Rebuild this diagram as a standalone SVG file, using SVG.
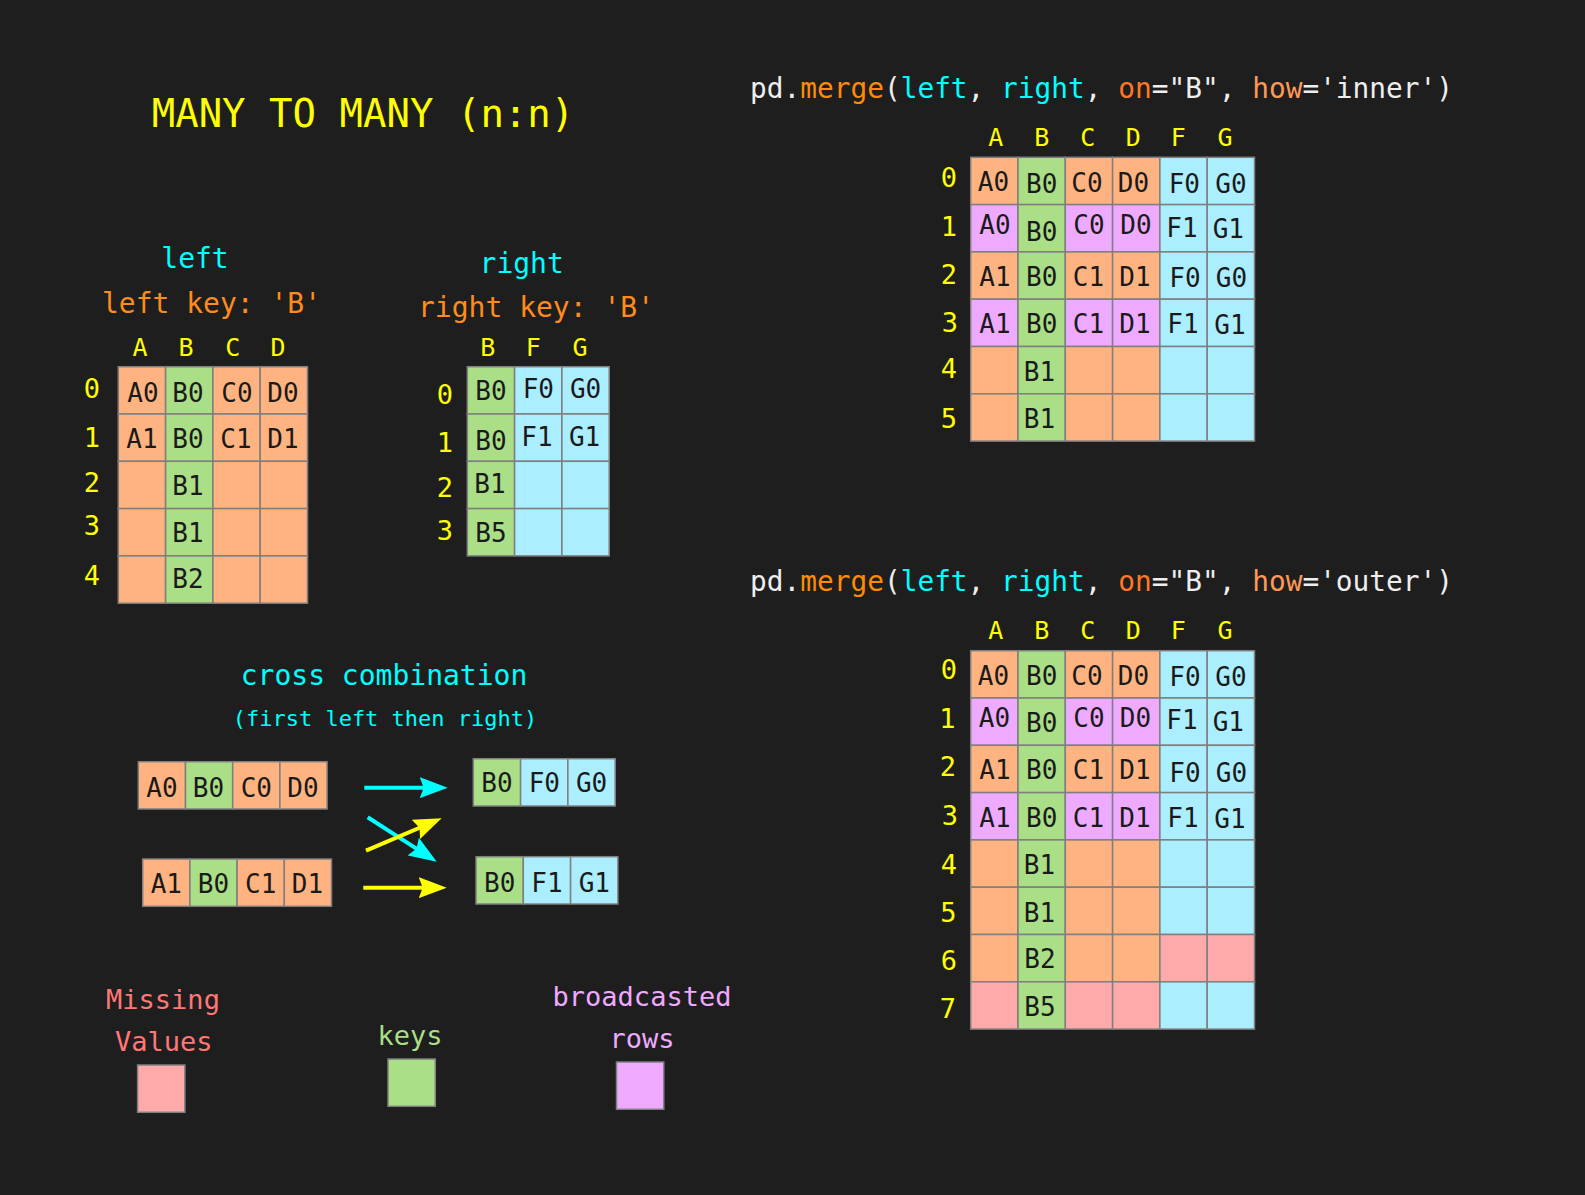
<svg xmlns="http://www.w3.org/2000/svg" width="1585" height="1195" viewBox="0 0 1585 1195">
<style>
text{font-family:"DejaVu Sans Mono","Liberation Mono",monospace}
.c{stroke:#7f7f7f;stroke-width:1.5}
.o{fill:#ffb380}.g{fill:#aade87}.b{fill:#aaeeff}.p{fill:#ffaaaa}.v{fill:#eeaaff}
.t{font-size:26px;fill:#1a1a1a;text-anchor:middle}
.h{font-size:25px;fill:#ffff00;text-anchor:middle}
.i{font-size:27px;fill:#ffff00;text-anchor:middle}
.cy{fill:#00ffff}.or{fill:#ff8c1a}.w{fill:#eeeeee}
.ttl{font-size:28px;text-anchor:middle}
.code{font-size:27.8px;fill:#eeeeee}
.leg{font-size:27px;text-anchor:middle}
</style>
<defs>
<marker id="ahC" viewBox="0 0 28 21" refX="20" refY="10.5" markerWidth="28" markerHeight="21" markerUnits="userSpaceOnUse" orient="auto"><path d="M0,0 L28,10.5 L0,21 L4,10.5 Z" fill="#00ffff"/></marker>
<marker id="ahY" viewBox="0 0 28 21" refX="20" refY="10.5" markerWidth="28" markerHeight="21" markerUnits="userSpaceOnUse" orient="auto"><path d="M0,0 L28,10.5 L0,21 L4,10.5 Z" fill="#ffff00"/></marker>
</defs>
<rect x="0" y="0" width="1585" height="1195" fill="#1e1e1e"/>

<g id="title"><text x="363" y="127" font-size="39" fill="#ffff00" text-anchor="middle">MANY TO MANY (n:n)</text></g>

<g id="left-table">
<text class="ttl cy" x="195" y="268">left</text>
<text class="ttl or" x="211.5" y="313" font-size="27">left key: 'B'</text>
<text class="h" x="140" y="356">A</text><text class="h" x="186" y="356">B</text><text class="h" x="232.7" y="356">C</text><text class="h" x="278" y="356">D</text>
<text class="i" x="92" y="398">0</text><text class="i" x="92" y="446.7">1</text><text class="i" x="92" y="491.7">2</text><text class="i" x="92" y="535">3</text><text class="i" x="92" y="585">4</text>
<rect class="c o" x="118.3" y="366.7" width="47.3" height="47.3"/><rect class="c g" x="165.6" y="366.7" width="47.3" height="47.3"/><rect class="c o" x="212.9" y="366.7" width="47.3" height="47.3"/><rect class="c o" x="260.2" y="366.7" width="47.3" height="47.3"/>
<rect class="c o" x="118.3" y="414" width="47.3" height="47.3"/><rect class="c g" x="165.6" y="414" width="47.3" height="47.3"/><rect class="c o" x="212.9" y="414" width="47.3" height="47.3"/><rect class="c o" x="260.2" y="414" width="47.3" height="47.3"/>
<rect class="c o" x="118.3" y="461.3" width="47.3" height="47.3"/><rect class="c g" x="165.6" y="461.3" width="47.3" height="47.3"/><rect class="c o" x="212.9" y="461.3" width="47.3" height="47.3"/><rect class="c o" x="260.2" y="461.3" width="47.3" height="47.3"/>
<rect class="c o" x="118.3" y="508.6" width="47.3" height="47.3"/><rect class="c g" x="165.6" y="508.6" width="47.3" height="47.3"/><rect class="c o" x="212.9" y="508.6" width="47.3" height="47.3"/><rect class="c o" x="260.2" y="508.6" width="47.3" height="47.3"/>
<rect class="c o" x="118.3" y="555.9" width="47.3" height="47.3"/><rect class="c g" x="165.6" y="555.9" width="47.3" height="47.3"/><rect class="c o" x="212.9" y="555.9" width="47.3" height="47.3"/><rect class="c o" x="260.2" y="555.9" width="47.3" height="47.3"/>
<text class="t" x="143" y="401.7">A0</text><text class="t" x="188" y="401.7">B0</text><text class="t" x="237" y="401.7">C0</text><text class="t" x="283" y="401.7">D0</text>
<text class="t" x="142" y="448.3">A1</text><text class="t" x="188" y="448.3">B0</text><text class="t" x="236" y="448.3">C1</text><text class="t" x="283" y="448.3">D1</text>
<text class="t" x="188" y="495">B1</text>
<text class="t" x="188" y="541.7">B1</text>
<text class="t" x="188" y="588.3">B2</text>
</g>

<g id="right-table">
<text class="ttl cy" x="521.7" y="273">right</text>
<text class="ttl or" x="536" y="317" font-size="27">right key: 'B'</text>
<text class="h" x="487.7" y="356">B</text><text class="h" x="533.3" y="356">F</text><text class="h" x="580" y="356">G</text>
<text class="i" x="445" y="404">0</text><text class="i" x="445" y="452.3">1</text><text class="i" x="445" y="497.3">2</text><text class="i" x="445" y="540">3</text>
<rect class="c g" x="467.3" y="366.7" width="47.3" height="47.3"/><rect class="c b" x="514.6" y="366.7" width="47.3" height="47.3"/><rect class="c b" x="561.9" y="366.7" width="47.3" height="47.3"/>
<rect class="c g" x="467.3" y="414" width="47.3" height="47.3"/><rect class="c b" x="514.6" y="414" width="47.3" height="47.3"/><rect class="c b" x="561.9" y="414" width="47.3" height="47.3"/>
<rect class="c g" x="467.3" y="461.3" width="47.3" height="47.3"/><rect class="c b" x="514.6" y="461.3" width="47.3" height="47.3"/><rect class="c b" x="561.9" y="461.3" width="47.3" height="47.3"/>
<rect class="c g" x="467.3" y="508.6" width="47.3" height="47.3"/><rect class="c b" x="514.6" y="508.6" width="47.3" height="47.3"/><rect class="c b" x="561.9" y="508.6" width="47.3" height="47.3"/>
<text class="t" x="491" y="400">B0</text><text class="t" x="538.3" y="398.3">F0</text><text class="t" x="585.6" y="398.3">G0</text>
<text class="t" x="491" y="450">B0</text><text class="t" x="537" y="446">F1</text><text class="t" x="584.6" y="446">G1</text>
<text class="t" x="490" y="493.3">B1</text>
<text class="t" x="491" y="541.7">B5</text>
</g>

<g id="inner-merge">
<text class="code" x="750" y="98">pd.<tspan fill="#ff8c00">merge</tspan>(<tspan fill="#00ffff">left</tspan>, <tspan fill="#00ffff">right</tspan>, <tspan fill="#ff7722">on</tspan>="B", <tspan fill="#ff9955">how</tspan>='inner')</text>
<text class="h" x="995.7" y="146">A</text><text class="h" x="1041.7" y="146">B</text><text class="h" x="1087.7" y="146">C</text><text class="h" x="1133.3" y="146">D</text><text class="h" x="1178.3" y="146">F</text><text class="h" x="1225" y="146">G</text>
<text class="i" x="949" y="187.3">0</text><text class="i" x="949" y="236">1</text><text class="i" x="949" y="284">2</text><text class="i" x="950" y="331.7">3</text><text class="i" x="949" y="378.3">4</text><text class="i" x="949" y="428.3">5</text>
<rect class="c o" x="970.7" y="157.3" width="47.3" height="47.3"/><rect class="c g" x="1018" y="157.3" width="47.3" height="47.3"/><rect class="c o" x="1065.3" y="157.3" width="47.3" height="47.3"/><rect class="c o" x="1112.6" y="157.3" width="47.3" height="47.3"/><rect class="c b" x="1159.9" y="157.3" width="47.3" height="47.3"/><rect class="c b" x="1207.2" y="157.3" width="47.3" height="47.3"/>
<rect class="c v" x="970.7" y="204.6" width="47.3" height="47.3"/><rect class="c g" x="1018" y="204.6" width="47.3" height="47.3"/><rect class="c v" x="1065.3" y="204.6" width="47.3" height="47.3"/><rect class="c v" x="1112.6" y="204.6" width="47.3" height="47.3"/><rect class="c b" x="1159.9" y="204.6" width="47.3" height="47.3"/><rect class="c b" x="1207.2" y="204.6" width="47.3" height="47.3"/>
<rect class="c o" x="970.7" y="251.9" width="47.3" height="47.3"/><rect class="c g" x="1018" y="251.9" width="47.3" height="47.3"/><rect class="c o" x="1065.3" y="251.9" width="47.3" height="47.3"/><rect class="c o" x="1112.6" y="251.9" width="47.3" height="47.3"/><rect class="c b" x="1159.9" y="251.9" width="47.3" height="47.3"/><rect class="c b" x="1207.2" y="251.9" width="47.3" height="47.3"/>
<rect class="c v" x="970.7" y="299.2" width="47.3" height="47.3"/><rect class="c g" x="1018" y="299.2" width="47.3" height="47.3"/><rect class="c v" x="1065.3" y="299.2" width="47.3" height="47.3"/><rect class="c v" x="1112.6" y="299.2" width="47.3" height="47.3"/><rect class="c b" x="1159.9" y="299.2" width="47.3" height="47.3"/><rect class="c b" x="1207.2" y="299.2" width="47.3" height="47.3"/>
<rect class="c o" x="970.7" y="346.5" width="47.3" height="47.3"/><rect class="c g" x="1018" y="346.5" width="47.3" height="47.3"/><rect class="c o" x="1065.3" y="346.5" width="47.3" height="47.3"/><rect class="c o" x="1112.6" y="346.5" width="47.3" height="47.3"/><rect class="c b" x="1159.9" y="346.5" width="47.3" height="47.3"/><rect class="c b" x="1207.2" y="346.5" width="47.3" height="47.3"/>
<rect class="c o" x="970.7" y="393.8" width="47.3" height="47.3"/><rect class="c g" x="1018" y="393.8" width="47.3" height="47.3"/><rect class="c o" x="1065.3" y="393.8" width="47.3" height="47.3"/><rect class="c o" x="1112.6" y="393.8" width="47.3" height="47.3"/><rect class="c b" x="1159.9" y="393.8" width="47.3" height="47.3"/><rect class="c b" x="1207.2" y="393.8" width="47.3" height="47.3"/>
<text class="t" x="993.5" y="191">A0</text><text class="t" x="1041.7" y="192.7">B0</text><text class="t" x="1087" y="191.7">C0</text><text class="t" x="1133.5" y="191.7">D0</text><text class="t" x="1184.3" y="193.3">F0</text><text class="t" x="1230.9" y="193">G0</text>
<text class="t" x="995" y="234">A0</text><text class="t" x="1041.7" y="240.7">B0</text><text class="t" x="1089" y="234">C0</text><text class="t" x="1136" y="234">D0</text><text class="t" x="1182" y="237.3">F1</text><text class="t" x="1228.3" y="238.3">G1</text>
<text class="t" x="995" y="286">A1</text><text class="t" x="1041.7" y="286">B0</text><text class="t" x="1088.5" y="286">C1</text><text class="t" x="1135" y="286">D1</text><text class="t" x="1185" y="287.3">F0</text><text class="t" x="1231.5" y="287.3">G0</text>
<text class="t" x="995" y="332.7">A1</text><text class="t" x="1041.7" y="332.7">B0</text><text class="t" x="1088.5" y="332.7">C1</text><text class="t" x="1135" y="332.7">D1</text><text class="t" x="1183" y="332.7">F1</text><text class="t" x="1230" y="334">G1</text>
<text class="t" x="1039.5" y="381">B1</text>
<text class="t" x="1039.5" y="427.7">B1</text>
</g>

<g id="outer-merge">
<text class="code" x="750" y="591">pd.<tspan fill="#ff8c00">merge</tspan>(<tspan fill="#00ffff">left</tspan>, <tspan fill="#00ffff">right</tspan>, <tspan fill="#ff7722">on</tspan>="B", <tspan fill="#ff9955">how</tspan>='outer')</text>
<text class="h" x="995.7" y="639.3">A</text><text class="h" x="1041.7" y="639.3">B</text><text class="h" x="1087.7" y="639.3">C</text><text class="h" x="1133.3" y="639.3">D</text><text class="h" x="1178.3" y="639.3">F</text><text class="h" x="1225" y="639.3">G</text>
<text class="i" x="949" y="679.3">0</text><text class="i" x="947.5" y="728.3">1</text><text class="i" x="948" y="776">2</text><text class="i" x="950" y="825">3</text><text class="i" x="949" y="874">4</text><text class="i" x="948.5" y="921.7">5</text><text class="i" x="949" y="970">6</text><text class="i" x="948" y="1018.3">7</text>
<rect class="c o" x="970.7" y="650.7" width="47.3" height="47.3"/><rect class="c g" x="1018" y="650.7" width="47.3" height="47.3"/><rect class="c o" x="1065.3" y="650.7" width="47.3" height="47.3"/><rect class="c o" x="1112.6" y="650.7" width="47.3" height="47.3"/><rect class="c b" x="1159.9" y="650.7" width="47.3" height="47.3"/><rect class="c b" x="1207.2" y="650.7" width="47.3" height="47.3"/>
<rect class="c v" x="970.7" y="698" width="47.3" height="47.3"/><rect class="c g" x="1018" y="698" width="47.3" height="47.3"/><rect class="c v" x="1065.3" y="698" width="47.3" height="47.3"/><rect class="c v" x="1112.6" y="698" width="47.3" height="47.3"/><rect class="c b" x="1159.9" y="698" width="47.3" height="47.3"/><rect class="c b" x="1207.2" y="698" width="47.3" height="47.3"/>
<rect class="c o" x="970.7" y="745.3" width="47.3" height="47.3"/><rect class="c g" x="1018" y="745.3" width="47.3" height="47.3"/><rect class="c o" x="1065.3" y="745.3" width="47.3" height="47.3"/><rect class="c o" x="1112.6" y="745.3" width="47.3" height="47.3"/><rect class="c b" x="1159.9" y="745.3" width="47.3" height="47.3"/><rect class="c b" x="1207.2" y="745.3" width="47.3" height="47.3"/>
<rect class="c v" x="970.7" y="792.6" width="47.3" height="47.3"/><rect class="c g" x="1018" y="792.6" width="47.3" height="47.3"/><rect class="c v" x="1065.3" y="792.6" width="47.3" height="47.3"/><rect class="c v" x="1112.6" y="792.6" width="47.3" height="47.3"/><rect class="c b" x="1159.9" y="792.6" width="47.3" height="47.3"/><rect class="c b" x="1207.2" y="792.6" width="47.3" height="47.3"/>
<rect class="c o" x="970.7" y="839.9" width="47.3" height="47.3"/><rect class="c g" x="1018" y="839.9" width="47.3" height="47.3"/><rect class="c o" x="1065.3" y="839.9" width="47.3" height="47.3"/><rect class="c o" x="1112.6" y="839.9" width="47.3" height="47.3"/><rect class="c b" x="1159.9" y="839.9" width="47.3" height="47.3"/><rect class="c b" x="1207.2" y="839.9" width="47.3" height="47.3"/>
<rect class="c o" x="970.7" y="887.2" width="47.3" height="47.3"/><rect class="c g" x="1018" y="887.2" width="47.3" height="47.3"/><rect class="c o" x="1065.3" y="887.2" width="47.3" height="47.3"/><rect class="c o" x="1112.6" y="887.2" width="47.3" height="47.3"/><rect class="c b" x="1159.9" y="887.2" width="47.3" height="47.3"/><rect class="c b" x="1207.2" y="887.2" width="47.3" height="47.3"/>
<rect class="c o" x="970.7" y="934.5" width="47.3" height="47.3"/><rect class="c g" x="1018" y="934.5" width="47.3" height="47.3"/><rect class="c o" x="1065.3" y="934.5" width="47.3" height="47.3"/><rect class="c o" x="1112.6" y="934.5" width="47.3" height="47.3"/><rect class="c p" x="1159.9" y="934.5" width="47.3" height="47.3"/><rect class="c p" x="1207.2" y="934.5" width="47.3" height="47.3"/>
<rect class="c p" x="970.7" y="981.8" width="47.3" height="47.3"/><rect class="c g" x="1018" y="981.8" width="47.3" height="47.3"/><rect class="c p" x="1065.3" y="981.8" width="47.3" height="47.3"/><rect class="c p" x="1112.6" y="981.8" width="47.3" height="47.3"/><rect class="c b" x="1159.9" y="981.8" width="47.3" height="47.3"/><rect class="c b" x="1207.2" y="981.8" width="47.3" height="47.3"/>
<text class="t" x="993.5" y="685">A0</text><text class="t" x="1041.7" y="685">B0</text><text class="t" x="1087" y="685">C0</text><text class="t" x="1133.5" y="685">D0</text><text class="t" x="1185" y="686">F0</text><text class="t" x="1230.9" y="686">G0</text>
<text class="t" x="994.5" y="727.3">A0</text><text class="t" x="1041.7" y="731.7">B0</text><text class="t" x="1089" y="727.3">C0</text><text class="t" x="1135.5" y="727.3">D0</text><text class="t" x="1182" y="729.3">F1</text><text class="t" x="1228.3" y="730.7">G1</text>
<text class="t" x="995" y="779.3">A1</text><text class="t" x="1041.7" y="779.3">B0</text><text class="t" x="1088.5" y="779.3">C1</text><text class="t" x="1135" y="779.3">D1</text><text class="t" x="1185" y="781.7">F0</text><text class="t" x="1231.5" y="781.7">G0</text>
<text class="t" x="995" y="826.7">A1</text><text class="t" x="1041.7" y="826.7">B0</text><text class="t" x="1088.5" y="826.7">C1</text><text class="t" x="1135" y="826.7">D1</text><text class="t" x="1183" y="826.7">F1</text><text class="t" x="1230" y="827.5">G1</text>
<text class="t" x="1039.5" y="874">B1</text>
<text class="t" x="1039.5" y="921.7">B1</text>
<text class="t" x="1040" y="968.3">B2</text>
<text class="t" x="1040" y="1016">B5</text>
</g>

<g id="cross-combination">
<text class="ttl cy" x="384" y="685">cross combination</text>
<text class="cy" x="385" y="726" font-size="22" text-anchor="middle">(first left then right)</text>
</g>

<g id="left-row-0">
<rect class="c o" x="138.3" y="761.7" width="47.2" height="47.3"/><rect class="c g" x="185.5" y="761.7" width="47.2" height="47.3"/><rect class="c o" x="232.7" y="761.7" width="47.2" height="47.3"/><rect class="c o" x="279.9" y="761.7" width="47.2" height="47.3"/>
<text class="t" x="162" y="796.7">A0</text><text class="t" x="208.5" y="796.7">B0</text><text class="t" x="256.3" y="796.7">C0</text><text class="t" x="303" y="796.7">D0</text>
</g>
<g id="left-row-1">
<rect class="c o" x="142.7" y="859" width="47.2" height="47.3"/><rect class="c g" x="189.9" y="859" width="47.2" height="47.3"/><rect class="c o" x="237.1" y="859" width="47.2" height="47.3"/><rect class="c o" x="284.3" y="859" width="47.2" height="47.3"/>
<text class="t" x="166.3" y="893.3">A1</text><text class="t" x="213.5" y="893.3">B0</text><text class="t" x="260.7" y="893.3">C1</text><text class="t" x="307.5" y="893.3">D1</text>
</g>
<g id="right-row-0">
<rect class="c g" x="473.3" y="758.7" width="47.3" height="47.3"/><rect class="c b" x="520.6" y="758.7" width="47.3" height="47.3"/><rect class="c b" x="567.9" y="758.7" width="47.3" height="47.3"/>
<text class="t" x="497" y="791.7">B0</text><text class="t" x="544.3" y="791.7">F0</text><text class="t" x="591.6" y="791.7">G0</text>
</g>
<g id="right-row-1">
<rect class="c g" x="476" y="856.7" width="47.3" height="47.3"/><rect class="c b" x="523.3" y="856.7" width="47.3" height="47.3"/><rect class="c b" x="570.6" y="856.7" width="47.3" height="47.3"/>
<text class="t" x="499.7" y="891.7">B0</text><text class="t" x="547" y="891.7">F1</text><text class="t" x="594.3" y="891.7">G1</text>
</g>

<g id="connectors" stroke-width="4" fill="none">
<line x1="364.3" y1="787.7" x2="439.7" y2="787.7" stroke="#00ffff" marker-end="url(#ahC)"/>
<line x1="367.7" y1="817.3" x2="430" y2="857.4" stroke="#00ffff" marker-end="url(#ahC)"/>
<line x1="366" y1="850.7" x2="434.3" y2="821.5" stroke="#ffff00" marker-end="url(#ahY)"/>
<line x1="363.3" y1="887.7" x2="438.7" y2="887.7" stroke="#ffff00" marker-end="url(#ahY)"/>
</g>

<g id="legend-missing">
<text class="leg" x="163" y="1009" fill="#ff7777">Missing</text>
<text class="leg" x="163.7" y="1051" fill="#ff7777">Values</text>
<rect class="c p" x="137.6" y="1065" width="47.3" height="47.3"/>
</g>
<g id="legend-keys">
<text class="leg" x="410" y="1045" fill="#aade87">keys</text>
<rect class="c g" x="388" y="1059" width="47.3" height="47.3"/>
</g>
<g id="legend-broadcast">
<text class="leg" x="642" y="1006" fill="#eeaaff">broadcasted</text>
<text class="leg" x="642" y="1048" fill="#eeaaff">rows</text>
<rect class="c v" x="616.5" y="1062" width="47.3" height="47.3"/>
</g>
</svg>
